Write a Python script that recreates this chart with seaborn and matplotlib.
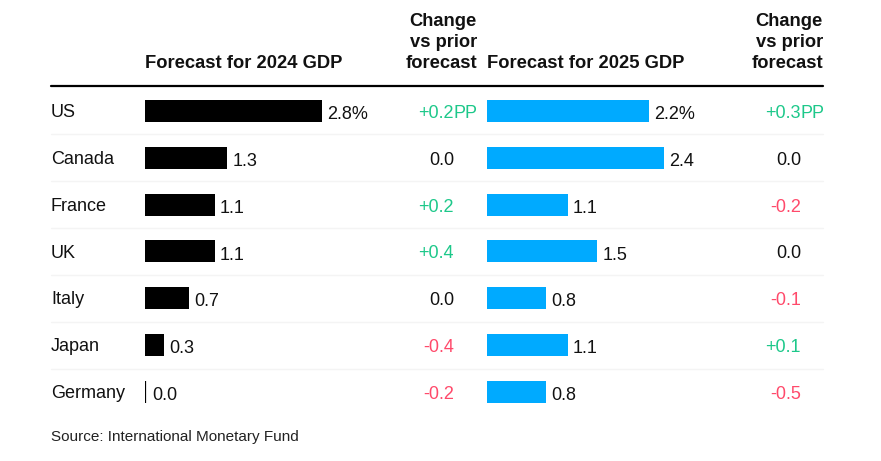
import matplotlib
matplotlib.use("Agg")
import matplotlib.pyplot as plt
import seaborn as sns
import pandas as pd
from matplotlib.transforms import blended_transform_factory
from matplotlib.lines import Line2D

countries = ["US", "Canada", "France", "UK", "Italy", "Japan", "Germany"]
gdp_2024 = [2.8, 1.3, 1.1, 1.1, 0.7, 0.3, 0.0]
chg_2024 = [0.2, 0.0, 0.2, 0.4, 0.0, -0.4, -0.2]
gdp_2025 = [2.2, 2.4, 1.1, 1.5, 0.8, 1.1, 0.8]
chg_2025 = [0.3, 0.0, -0.2, 0.0, -0.1, 0.1, -0.5]

sns.set_theme(style="white")
plt.rcParams["font.family"] = ["Liberation Sans", "DejaVu Sans"]

W, H = 881, 461
fig = plt.figure(figsize=(W / 100, H / 100), dpi=100)

BLACK = "#000000"
BLUE = "#00aaff"
GREEN = "#1dc88a"
RED = "#ff4a6b"
TEXT = "#111111"

row_top, row_bot = 111, 392
step = (row_bot - row_top) / (len(countries) - 1)
ax_top = row_top - step / 2
ax_bot = row_bot + step / 2
bottom = 1 - ax_bot / H
height = (ax_bot - ax_top) / H

def make_ax(left_px, px_per_unit, xmax):
    ax = fig.add_axes([left_px / W, bottom, xmax * px_per_unit / W, height])
    return ax

ax1 = make_ax(145, 63.2, 3.2)
ax2 = make_ax(487, 73.6, 3.2)

df = pd.DataFrame({"country": countries, "g24": gdp_2024, "g25": gdp_2025})

bar_h = 22 / step
for ax, col, color in [(ax1, "g24", BLACK), (ax2, "g25", BLUE)]:
    sns.barplot(data=df, x=col, y="country", orient="h", color=color,
                width=bar_h, ax=ax, saturation=1, edgecolor="none")
    ax.set_xlim(0, 3.2)
    ax.set_ylim(len(countries) - 0.5, -0.5)
    ax.axis("off")

# zero-value marker and value labels
for ax, vals in [(ax1, gdp_2024), (ax2, gdp_2025)]:
    for i, v in enumerate(vals):
        if v == 0:
            ax.vlines(0, i - bar_h / 2, i + bar_h / 2, color=BLACK, lw=1.6)
        label = f"{v:.1f}" + ("%" if i == 0 else "")
        ax.annotate(label, (v, i), xytext=(5 if v > 0 else 7, -8),
                    textcoords="offset pixels", ha="left", va="baseline",
                    fontsize=13, color=TEXT)

trans = blended_transform_factory(fig.transFigure, ax1.transData)

def fmt_chg(v):
    if v > 0:
        return f"+{v:.1f}", GREEN
    if v < 0:
        return f"-{abs(v):.1f}", RED
    return "0.0", TEXT

for i, c in enumerate(countries):
    ax1.annotate(c, (51 / W, i), xycoords=trans, xytext=(0, -6),
                 textcoords="offset pixels", ha="left", va="baseline",
                 fontsize=13, color=TEXT)
    for vals, xr in [(chg_2024, 454), (chg_2025, 801)]:
        s, col = fmt_chg(vals[i])
        ax1.annotate(s, (xr / W, i), xycoords=trans, xytext=(0, -7),
                     textcoords="offset pixels", ha="right",
                     va="baseline", fontsize=13, color=col)
        if i == 0:
            ax1.annotate("PP", (xr / W, i), xycoords=trans, xytext=(-1, -7),
                         textcoords="offset pixels", ha="left",
                         va="baseline", fontsize=13, color=col)

# row separators
for i in range(len(countries) - 1):
    y = 1 - (row_top + step * (i + 0.5)) / H
    fig.add_artist(Line2D([51 / W, 823 / W], [y, y], transform=fig.transFigure,
                          color="#f4f4f4", lw=1))

# header line
fig.add_artist(Line2D([51 / W, 823 / W], [1 - 86 / H, 1 - 86 / H],
                      transform=fig.transFigure, color=BLACK, lw=1.6))

# headers
def ftext(x, y, s, **kw):
    fig.text(x / W, 1 - y / H, s, va="baseline", **kw)

ftext(145, 68, "Forecast for 2024 GDP", ha="left", fontsize=13.2, fontweight="bold", color=TEXT)
ftext(487, 68, "Forecast for 2025 GDP", ha="left", fontsize=13.2, fontweight="bold", color=TEXT)
for xr in (477, 823):
    for line, yb in zip(["Change", "vs prior", "forecast"], [26, 47, 68]):
        ftext(xr, yb, line, ha="right", fontsize=13.2, fontweight="bold", color=TEXT)

ftext(51, 441, "Source: International Monetary Fund", ha="left", fontsize=11, color="#222222")

fig.savefig("out.png", dpi=100)
